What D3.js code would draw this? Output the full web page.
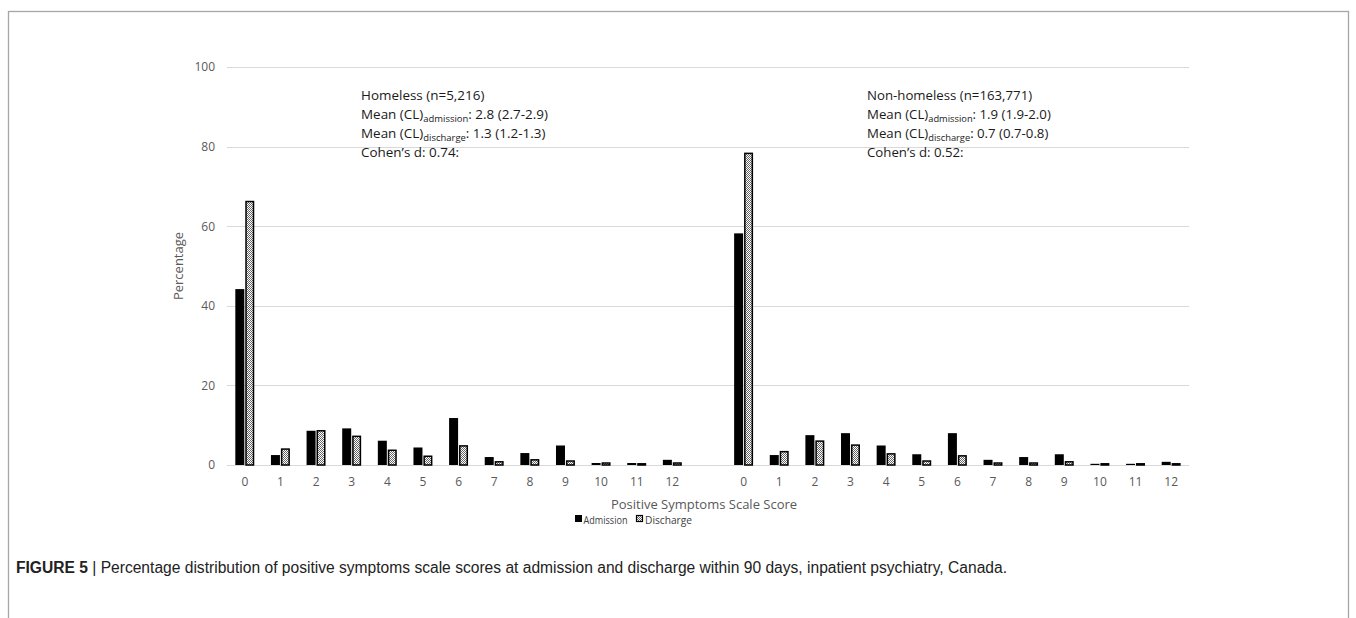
<!DOCTYPE html>
<html><head><meta charset="utf-8">
<script src="https://cdn.jsdelivr.net/npm/d3@7"></script>
<style>body{margin:0;background:#fff}svg{display:block}</style>
</head><body><svg id="c" width="1356" height="618"></svg>
<script>
const scores = ["0","1","2","3","4","5","6","7","8","9","10","11","12"];
const homelessAdmission = [44.2, 2.5, 8.6, 9.2, 6.1, 4.4, 11.8, 2.0, 3.0, 4.9, 0.5, 0.5, 1.3];
const homelessDischarge = [66.2, 4.0, 8.6, 7.2, 3.7, 2.2, 4.8, 0.8, 1.3, 1.0, 0.5, 0.3, 0.5];
const nonHomelessAdmission = [58.2, 2.5, 7.5, 8.0, 4.9, 2.7, 8.0, 1.3, 2.0, 2.7, 0.3, 0.3, 0.8];
const nonHomelessDischarge = [78.3, 3.35, 6.0, 5.0, 2.8, 1.0, 2.3, 0.5, 0.5, 0.8, 0.3, 0.3, 0.3];
const yTicks = [0, 20, 40, 60, 80, 100];
const seriesNames = ["Admission", "Discharge"];

const svg = d3.select("#c");
const FONT = "'Open Sans', sans-serif";

// frame
svg.append("rect").attr("x", 8.5).attr("y", 11.5).attr("width", 1340).attr("height", 640)
  .attr("fill", "none").attr("stroke", "#a6a6a6").attr("stroke-width", 1.3);

// pattern
const defs = svg.append("defs");
const pat = defs.append("pattern").attr("id", "dots").attr("patternUnits", "userSpaceOnUse")
  .attr("width", 2).attr("height", 2);
pat.append("rect").attr("width", 2).attr("height", 2).attr("fill", "#fff");
pat.append("rect").attr("width", 1).attr("height", 1).attr("fill", "#666");
pat.append("rect").attr("x", 1).attr("y", 1).attr("width", 1).attr("height", 1).attr("fill", "#666");

// categories: left group, gap, right group
const cats = [];
scores.forEach((s, i) => cats.push({key: "H" + s, label: s, a: homelessAdmission[i], d: homelessDischarge[i]}));
cats.push({key: "gap", label: "", a: null, d: null});
scores.forEach((s, i) => cats.push({key: "N" + s, label: s, a: nonHomelessAdmission[i], d: nonHomelessDischarge[i]}));

const x = d3.scaleBand().domain(cats.map(c => c.key)).range([227, 1189]).paddingInner(0).paddingOuter(0);
const y = d3.scaleLinear().domain([0, 100]).range([465, 67]);

// gridlines
svg.append("g").selectAll("line").data(yTicks).join("line")
  .attr("x1", 227).attr("x2", 1189)
  .attr("y1", d => Math.round(y(d)) + 0.5).attr("y2", d => Math.round(y(d)) + 0.5)
  .attr("stroke", "#d9d9d9").attr("stroke-width", 1);

// y axis labels
const yAxis = svg.append("g").attr("transform", "translate(227,0)")
  .call(d3.axisLeft(y).tickValues(yTicks).tickSize(0).tickPadding(12));
yAxis.select(".domain").remove();
yAxis.selectAll("text").attr("font-family", FONT).attr("font-size", 12).attr("fill", "#595959");

// x axis labels
const xAxis = svg.append("g").attr("transform", "translate(0,465)")
  .call(d3.axisBottom(x).tickFormat(k => cats.find(c => c.key === k).label).tickSize(0).tickPadding(12));
xAxis.select(".domain").remove();
xAxis.selectAll("text").attr("font-family", FONT).attr("font-size", 12).attr("fill", "#595959");

// bars
const bw = 9;
const g = svg.append("g");
const real = cats.filter(c => c.a !== null);
g.selectAll("rect.adm").data(real).join("rect").attr("class", "adm")
  .attr("x", c => x(c.key) + x.bandwidth() / 2 - bw - 0.5)
  .attr("width", bw)
  .attr("y", c => y(c.a)).attr("height", c => y(0) - y(c.a))
  .attr("fill", "#000");
g.selectAll("rect.dis").data(real).join("rect").attr("class", "dis")
  .attr("x", c => x(c.key) + x.bandwidth() / 2 + 1.2)
  .attr("width", bw - 1.5)
  .attr("y", c => y(c.d)).attr("height", c => y(0) - y(c.d))
  .attr("fill", "url(#dots)").attr("stroke", "#000").attr("stroke-width", 1.5);

// axis titles
svg.append("text").attr("transform", "translate(183,266) rotate(-90)")
  .attr("text-anchor", "middle").attr("font-family", FONT).attr("font-size", 13).attr("fill", "#595959")
  .text("Percentage");
svg.append("text").attr("x", 704).attr("y", 509).attr("text-anchor", "middle")
  .attr("font-family", FONT).attr("font-size", 13).attr("fill", "#595959")
  .text("Positive Symptoms Scale Score");

// legend
const lg = svg.append("g").attr("font-family", FONT).attr("font-size", 11.5).attr("fill", "#404040");
lg.append("rect").attr("x", 575).attr("y", 515).attr("width", 7).attr("height", 7).attr("fill", "#000");
lg.append("text").attr("x", 583.5).attr("y", 523.5).attr("textLength", 44).attr("lengthAdjust", "spacingAndGlyphs").text(seriesNames[0]);
lg.append("rect").attr("x", 636.5).attr("y", 515.5).attr("width", 6).attr("height", 6)
  .attr("fill", "url(#dots)").attr("stroke", "#000").attr("stroke-width", 1.2);
lg.append("text").attr("x", 645).attr("y", 523.5).attr("textLength", 47).attr("lengthAdjust", "spacingAndGlyphs").text(seriesNames[1]);

// annotations
function annot(x0, title, adm, dis, d, target) {
  const outer = svg.append("g").attr("transform", `translate(${x0},0)`);
  const t = outer.append("g").attr("font-family", FONT).attr("font-size", 13.5).attr("fill", "#1a1a1a");
  t.append("text").attr("x", 0).attr("y", 100).text(title);
  const l2 = t.append("text").attr("x", 0).attr("y", 119);
  l2.append("tspan").text("Mean (CL)");
  l2.append("tspan").attr("font-size", 9.5).attr("dy", 3).text("admission");
  l2.append("tspan").attr("dy", -3).text(": " + adm);
  const l3 = t.append("text").attr("x", 0).attr("y", 138);
  l3.append("tspan").text("Mean (CL)");
  l3.append("tspan").attr("font-size", 9.5).attr("dy", 3).text("discharge");
  l3.append("tspan").attr("dy", -3).text(": " + dis);
  t.append("text").attr("x", 0).attr("y", 157).text("Cohen\u2019s d: " + d);
  const w = l2.node().getBBox().width;
  t.attr("transform", `scale(${target / w},1)`);
}
annot(361, "Homeless (n=5,216)", "2.8 (2.7-2.9)", "1.3 (1.2-1.3)", "0.74:", 187);
annot(867, "Non-homeless (n=163,771)", "1.9 (1.9-2.0)", "0.7 (0.7-0.8)", "0.52:", 184);

// caption
const cap = svg.append("text").attr("x", 16).attr("y", 573)
  .attr("font-family", "'Liberation Sans', Arial, sans-serif").attr("font-size", 15.6).attr("fill", "#222");
cap.append("tspan").attr("font-weight", "bold").text("FIGURE 5");
cap.append("tspan").text(" | Percentage distribution of positive symptoms scale scores at admission and discharge within 90 days, inpatient psychiatry, Canada.");
</script></body></html>
